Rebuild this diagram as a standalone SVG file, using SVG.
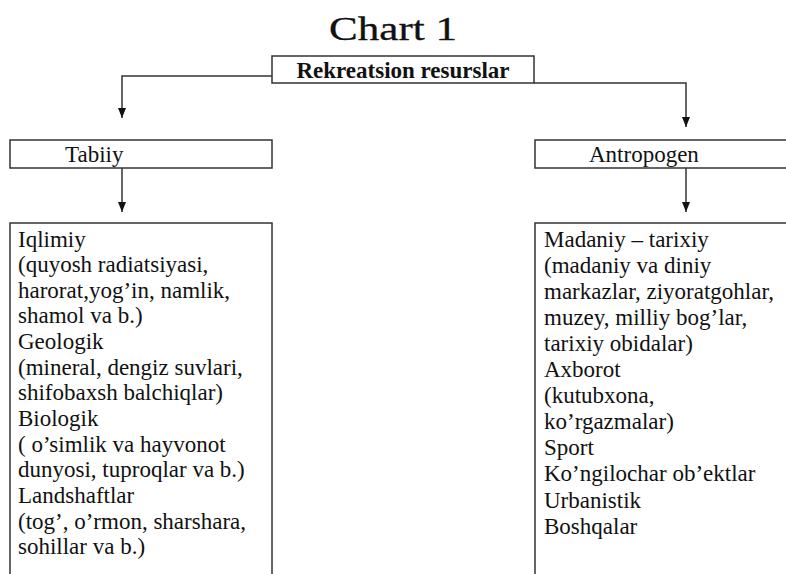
<svg xmlns="http://www.w3.org/2000/svg" width="786" height="574" viewBox="0 0 786 574">
<style>
.box{fill:#fff;stroke:#333;stroke-width:1.5}
.t{font-family:"Liberation Serif","Times New Roman",serif;font-size:23px;fill:#111}
.b{font-weight:bold}
.ln{fill:none;stroke:#333;stroke-width:1.5}
</style>
<defs>
<marker id="ah" markerUnits="userSpaceOnUse" markerWidth="11" markerHeight="10" refX="10" refY="4" orient="auto">
<path d="M0,0 L10,4 L0,8 z" fill="#111"/>
</marker>
</defs>
<text x="393" y="40" text-anchor="middle" font-family="'Liberation Serif','Times New Roman',serif" font-size="33" textLength="128" lengthAdjust="spacingAndGlyphs" fill="#111" stroke="#111" stroke-width="0.3">Chart 1</text>
<g id="connectors">
<path class="ln" d="M272,76 H122 V118" marker-end="url(#ah)"/>
<path class="ln" d="M534,83 H686 V127" marker-end="url(#ah)"/>
<path class="ln" d="M122,168 V212" marker-end="url(#ah)"/>
<path class="ln" d="M686,168 V212" marker-end="url(#ah)"/>
</g>
<g id="rekreatsion">
<rect class="box" x="272" y="56" width="262" height="27"/>
<text class="t b" x="403" y="78" text-anchor="middle">Rekreatsion resurslar</text>
</g>
<g id="tabiiy">
<rect class="box" x="10" y="140" width="262" height="28"/>
<text class="t" x="65" y="162">Tabiiy</text>
</g>
<g id="antropogen">
<rect class="box" x="535" y="140" width="262" height="28"/>
<text class="t" x="589" y="162">Antropogen</text>
</g>
<g id="tabiiy-list">
<rect class="box" x="10" y="223" width="262" height="360"/>
<text class="t" x="18" y="246.5">
<tspan x="18">Iqlimiy</tspan>
<tspan x="18" dy="25.65">(quyosh radiatsiyasi,</tspan>
<tspan x="18" dy="25.65">harorat,yog’in, namlik,</tspan>
<tspan x="18" dy="25.65">shamol va b.)</tspan>
<tspan x="18" dy="25.65">Geologik</tspan>
<tspan x="18" dy="25.65">(mineral, dengiz suvlari,</tspan>
<tspan x="18" dy="25.65">shifobaxsh balchiqlar)</tspan>
<tspan x="18" dy="25.65">Biologik</tspan>
<tspan x="18" dy="25.65">( o’simlik va hayvonot</tspan>
<tspan x="18" dy="25.65">dunyosi, tuproqlar va b.)</tspan>
<tspan x="18" dy="25.65">Landshaftlar</tspan>
<tspan x="18" dy="25.65">(tog’, o’rmon, sharshara,</tspan>
<tspan x="18" dy="25.65">sohillar va b.)</tspan>
</text>
</g>
<g id="antropogen-list">
<rect class="box" x="535" y="223" width="262" height="360"/>
<text class="t" x="544" y="246.5">
<tspan x="544">Madaniy – tarixiy</tspan>
<tspan x="544" dy="26.1">(madaniy va diniy</tspan>
<tspan x="544" dy="26.1">markazlar, ziyoratgohlar,</tspan>
<tspan x="544" dy="26.1">muzey, milliy bog’lar,</tspan>
<tspan x="544" dy="26.1">tarixiy obidalar)</tspan>
<tspan x="544" dy="26.1">Axborot</tspan>
<tspan x="544" dy="26.1">(kutubxona,</tspan>
<tspan x="544" dy="26.1">ko’rgazmalar)</tspan>
<tspan x="544" dy="26.1">Sport</tspan>
<tspan x="544" dy="26.1">Ko’ngilochar ob’ektlar</tspan>
<tspan x="544" dy="26.1">Urbanistik</tspan>
<tspan x="544" dy="26.1">Boshqalar</tspan>
</text>
</g>
</svg>
